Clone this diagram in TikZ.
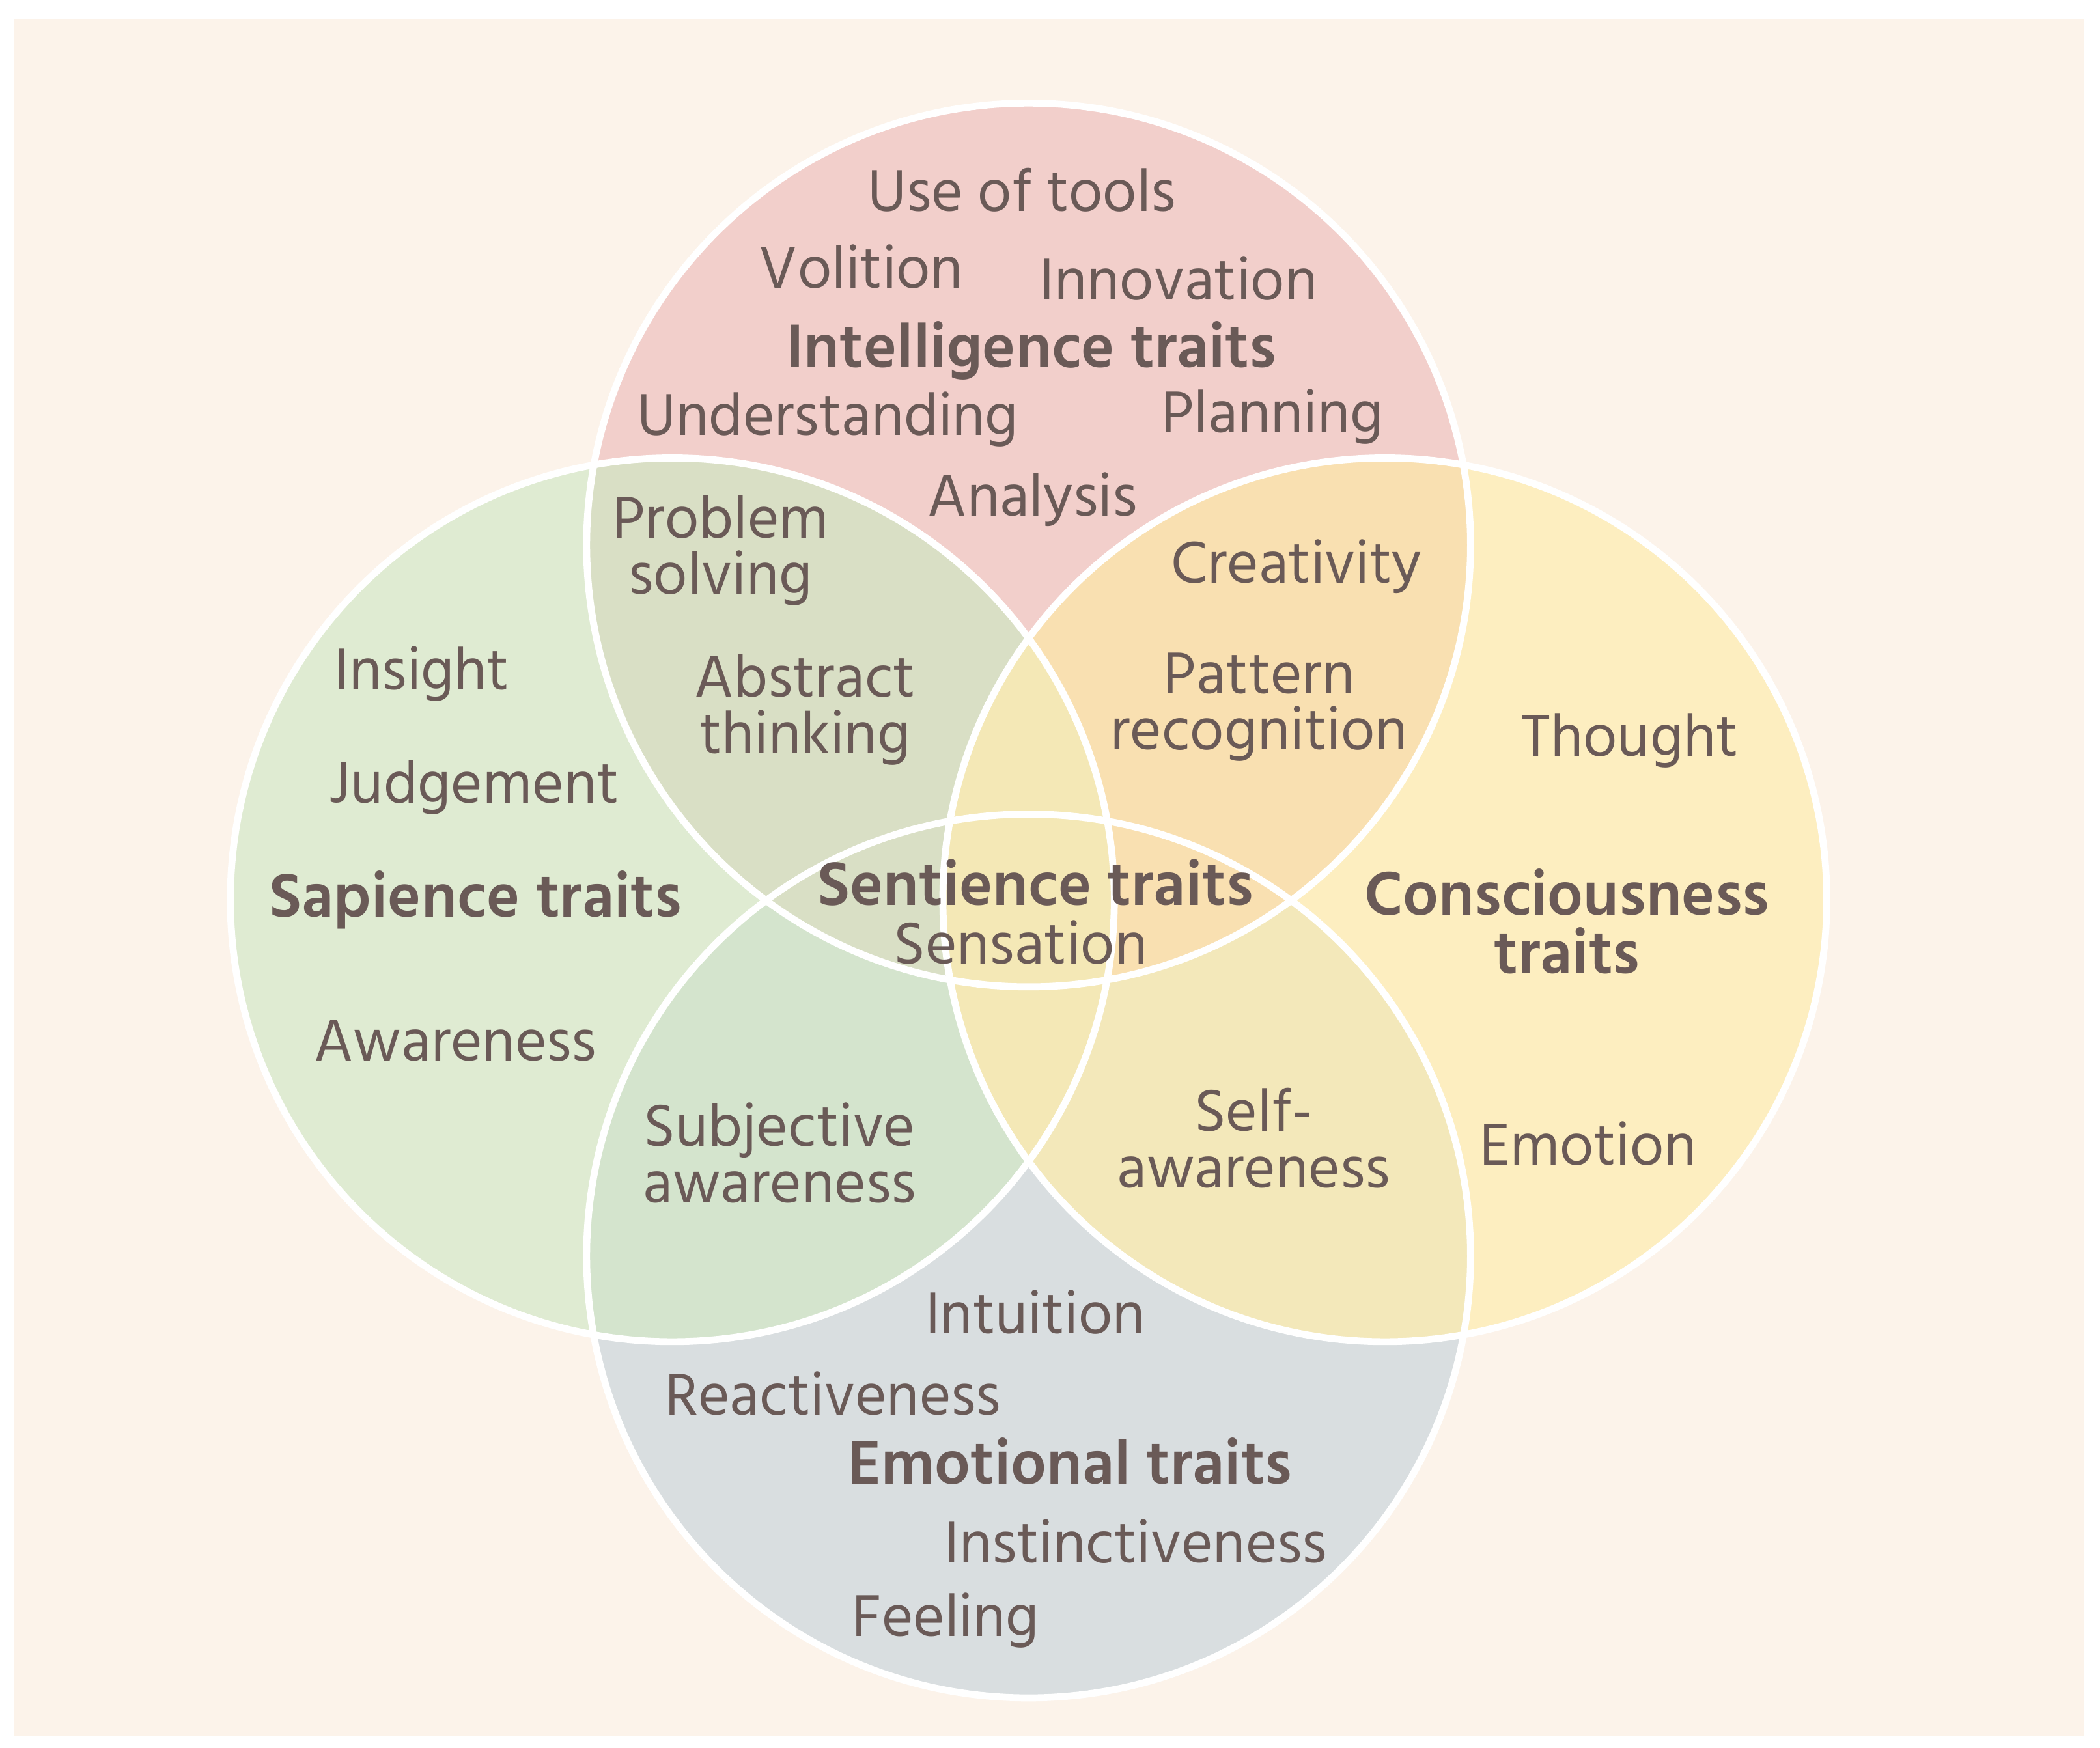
\documentclass[tikz,border=0pt]{standalone}
\usepackage{fontspec}
\setmainfont{Hind Madurai}
\definecolor{bgc}{HTML}{FCF3EA}
\definecolor{pinkc}{HTML}{F2CFCB}
\definecolor{greenc}{HTML}{DFEBD2}
\definecolor{yellowc}{HTML}{FDEEC0}
\definecolor{grayc}{HTML}{D9DEE0}
\definecolor{pg}{HTML}{D9DFC5}
\definecolor{gg}{HTML}{D4E4CD}
\definecolor{yg}{HTML}{F3E8BA}
\definecolor{yp}{HTML}{F9E0B1}
\definecolor{ygr}{HTML}{F4E8B6}
\definecolor{txt}{HTML}{6A5A57}
\tikzset{
  lbl/.style={text=txt, font=\fontsize{22.6}{21}\selectfont, align=center, inner sep=0pt},
  head/.style={text=txt, font=\fontsize{23.6}{22}\selectfont\bfseries, align=center, inner sep=0pt},
  ring/.style={draw=white, line width=2.6pt}
}
\def\R{165pt}
\begin{document}
\begin{tikzpicture}[x=0.5pt,y=-0.5pt]
\useasboundingbox (0,0) rectangle (1568,1305);
\fill[white] (0,0) rectangle (1568,1305);
\fill[bgc] (10,14) rectangle (1556,1296);
% base fills
\fill[grayc] (768,938) circle[radius=\R];
\fill[pinkc] (768,407) circle[radius=\R];
\fill[greenc] (502,672) circle[radius=\R];
\begin{scope}\clip (502,672) circle[radius=\R]; \fill[gg] (768,938) circle[radius=\R];\end{scope}
\begin{scope}\clip (502,672) circle[radius=\R]; \fill[pg] (768,407) circle[radius=\R];\end{scope}
\fill[yellowc] (1034,672) circle[radius=\R];
\begin{scope}\clip (1034,672) circle[radius=\R]; \fill[yg] (768,938) circle[radius=\R];\end{scope}
\begin{scope}\clip (1034,672) circle[radius=\R]; \fill[yp] (768,407) circle[radius=\R];\end{scope}
\begin{scope}\clip (1034,672) circle[radius=\R]; \fill[ygr] (502,672) circle[radius=\R];\end{scope}
% outlines
\draw[ring] (768,407) circle[radius=\R];
\draw[ring] (768,938) circle[radius=\R];
\draw[ring] (502,672) circle[radius=\R];
\draw[ring] (1034,672) circle[radius=\R];
% texts
\node[lbl] (tools) at (763,142) {Use of tools};
\node[lbl] (volition) at (643,199) {Volition};
\node[lbl] (innov) at (880,208) {Innovation};
\node[head] (intel) at (770,262) {Intelligence traits};
\node[lbl] (under) at (618,313) {Understanding};
\node[lbl] (plan) at (950,311) {Planning};
\node[lbl] (anal) at (771,373) {Analysis};
\node[lbl] (prob) at (538,411) {Problem\\solving};
\node[lbl] (abst) at (601,530) {Abstract\\thinking};
\node[lbl] (creat) at (968,423) {Creativity};
\node[lbl] (patt) at (940,528) {Pattern\\recognition};
\node[lbl] (insight) at (315,503) {Insight};
\node[lbl] (judge) at (354,588) {Judgement};
\node[lbl] (thought) at (1217,553) {Thought};
\node[head] (sap) at (355,672) {Sapience traits};
\node[head] (sent) at (773,659) {Sentience traits};
\node[lbl] (sens) at (762,704) {Sensation};
\node[head] (cons) at (1170,688) {Consciousness\\traits};
\node[lbl] (aware) at (340,777) {Awareness};
\node[lbl] (subj) at (582,861) {Subjective\\awareness};
\node[lbl] (self) at (936,850) {Self-\\awareness};
\node[lbl] (emot) at (1186,854) {Emotion};
\node[lbl] (intu) at (773,980) {Intuition};
\node[lbl] (react) at (622,1041) {Reactiveness};
\node[head] (emo) at (799,1091) {Emotional traits};
\node[lbl] (inst) at (848,1151) {Instinctiveness};
\node[lbl] (feel) at (706,1210) {Feeling};
\end{tikzpicture}
\end{document}
